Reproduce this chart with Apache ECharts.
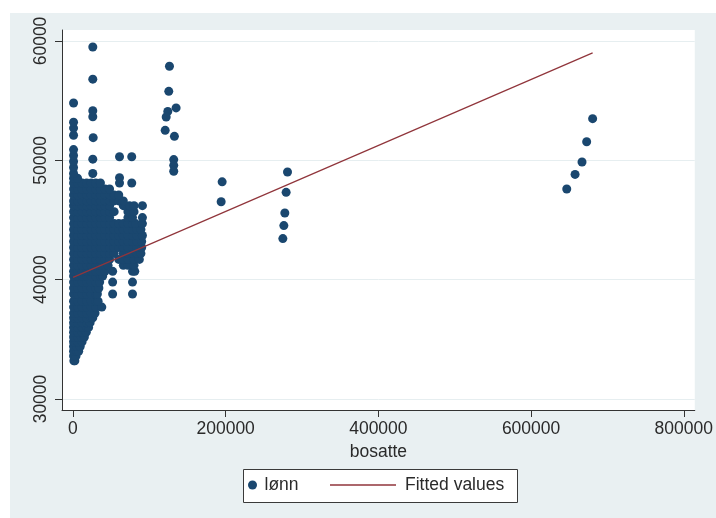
<!DOCTYPE html>
<html><head><meta charset="utf-8">
<script src="https://cdn.jsdelivr.net/npm/echarts@6/dist/echarts.min.js"></script>
<style>html,body{margin:0;padding:0;background:#fff}#c{width:716px;height:518px}</style>
</head><body><div id="c"></div>
<script>
// x-axis ticks (bosatte) and y-axis ticks (lønn)
const xTicks = [0, 200000, 400000, 600000, 800000];
const yTicks = [30000, 40000, 50000, 60000];

// Dense cloud of small municipalities: rows of [lønn, [bosatte values...]]
const lonnRows = [
  [33200, [1200, 2500]],
  [33600, [800, 4000]],
  [34000, [800, 5000, 7500]],
  [34400, [800, 5000, 9500]],
  [34800, [800, 6000, 12000]],
  [35200, [800, 6000, 11000, 15000]],
  [35600, [800, 6000, 12000, 17500]],
  [36000, [800, 6000, 12000, 18000, 20500]],
  [36400, [800, 6000, 12000, 18000, 22500]],
  [36800, [800, 6000, 12000, 18000, 24000, 26000]],
  [37200, [800, 6000, 12000, 18000, 24000, 29000]],
  [37700, [800, 6000, 12000, 18000, 24000, 30000, 37800]],
  [38200, [800, 6000, 12000, 18000, 24000, 30000, 33000]],
  [38800, [800, 6000, 12000, 18000, 24000, 30000, 32000, 52000, 78000]],
  [39300, [800, 6000, 12000, 18000, 24000, 30000, 34000]],
  [39800, [800, 6000, 12000, 18000, 24000, 30000, 35000, 52000, 78000]],
  [40300, [800, 6000, 12000, 18000, 24000, 30000, 36000, 39000]],
  [40700, [800, 6000, 12000, 18000, 24000, 30000, 36000, 42000, 52000, 78000, 81000]],
  [41200, [800, 6000, 12000, 18000, 24000, 30000, 36000, 42000, 46000, 66000, 72000, 80000]],
  [41700, [800, 6000, 12000, 18000, 24000, 30000, 36000, 42000, 48000, 60000, 66000, 72000, 80000, 87000]],
  [42200, [800, 6000, 12000, 18000, 24000, 30000, 36000, 42000, 48000, 54000, 66000, 72000, 78000, 84000, 89000]],
  [42700, [800, 6000, 12000, 18000, 24000, 30000, 36000, 42000, 48000, 54000, 60000, 66000, 72000, 78000, 84000, 90000]],
  [43200, [800, 6000, 12000, 18000, 24000, 30000, 36000, 42000, 48000, 54000, 60000, 66000, 72000, 78000, 84000, 90000]],
  [43700, [800, 6000, 12000, 18000, 24000, 30000, 36000, 42000, 48000, 54000, 60000, 66000, 72000, 78000, 84000, 91000]],
  [44200, [800, 6000, 12000, 18000, 24000, 30000, 36000, 42000, 48000, 54000, 60000, 66000, 72000, 78000, 84000, 89000]],
  [44700, [800, 6000, 12000, 18000, 24000, 30000, 36000, 42000, 48000, 54000, 60000, 66000, 72000, 78000, 82000, 91000]],
  [45200, [800, 6000, 12000, 18000, 24000, 30000, 36000, 42000, 48000, 72000, 78000, 91000]],
  [45700, [800, 6000, 12000, 18000, 24000, 30000, 36000, 42000, 48000, 54000, 72000, 80000]],
  [46200, [800, 6000, 12000, 18000, 24000, 30000, 36000, 42000, 48000, 66000, 74000, 80000, 91000]],
  [46600, [800, 6000, 12000, 18000, 24000, 30000, 36000, 42000, 48000, 54000, 60000, 66000]],
  [47100, [800, 6000, 12000, 18000, 24000, 30000, 36000, 42000, 48000, 54000, 60000]],
  [47600, [800, 6000, 12000, 18000, 24000, 30000, 36000, 42000, 48000]],
  [48100, [800, 6000, 12000, 18000, 24000, 30000, 36000, 61000, 77000]],
  [48500, [800, 6000]]
];

// Separately readable points [bosatte, lønn]
const lonnOutliers = [
  [800, 48900], [800, 49400], [800, 49900], [800, 50400], [800, 50900],
  [800, 52100], [800, 52700], [800, 53200], [800, 54800],
  [26000, 48900], [26000, 50100], [26500, 51900], [26000, 53650], [26000, 54150],
  [26000, 56800], [26000, 59500],
  [61000, 50300], [77000, 50300], [61000, 48540],
  [126400, 57880], [125500, 55780], [124200, 54100], [122100, 53630], [135100, 54390],
  [120800, 52510], [132900, 52010], [132000, 50060], [132000, 49580], [132000, 49080],
  [195400, 48200], [194100, 46530],
  [281000, 49020], [279200, 47320], [277500, 45590], [276200, 44530], [274900, 43440],
  [680600, 53490], [672800, 51560], [666700, 49860], [657600, 48820], [646700, 47600]
];

// Fitted values (linear fit) endpoints [bosatte, fitted]
const fittedValues = [[200, 40190], [680600, 59000]];

const scatterData = [];
lonnRows.forEach(function (r) { r[1].forEach(function (x) { scatterData.push([x, r[0]]); }); });
lonnOutliers.forEach(function (p) { scatterData.push(p); });

const FONT = '"Liberation Sans", Arial, sans-serif';
const TXT = '#2a2a2a';
const plain = function (v) { return String(v); };

const chart = echarts.init(document.getElementById('c'), null, {renderer: 'canvas'});
chart.setOption({
  animation: false,
  backgroundColor: '#ffffff',
  graphic: {
    elements: [
      {type: 'rect', z: -100, shape: {x: 10, y: 13, width: 706, height: 505}, style: {fill: '#e9f0f2'}},
      {type: 'rect', z: 3, shape: {x: 243.5, y: 469.5, width: 274, height: 33}, style: {fill: '#ffffff', stroke: '#3a3a3a', lineWidth: 1}}
    ]
  },
  grid: {left: 62, right: 18, top: 30, bottom: 108, show: true, backgroundColor: '#ffffff', borderWidth: 0},
  xAxis: {
    type: 'value', min: -14330, max: 814375,
    name: 'bosatte', nameLocation: 'middle', nameGap: 30,
    nameTextStyle: {fontFamily: FONT, fontSize: 17.5, color: TXT},
    axisLine: {show: true, onZero: false, lineStyle: {color: '#333', width: 1}},
    axisTick: {show: true, length: 7, lineStyle: {color: '#333'}, customValues: xTicks},
    axisLabel: {fontFamily: FONT, fontSize: 17.5, color: TXT, margin: 10, customValues: xTicks, formatter: plain},
    splitLine: {show: false}
  },
  yAxis: {
    type: 'value', min: 29080, max: 60920,
    axisLine: {show: true, onZero: false, lineStyle: {color: '#333', width: 1}},
    axisTick: {show: true, length: 7, lineStyle: {color: '#333'}, customValues: yTicks},
    axisLabel: {fontFamily: FONT, fontSize: 17.5, color: TXT, margin: 12, rotate: 90, customValues: yTicks, formatter: plain},
    splitLine: {show: true, lineStyle: {color: '#e6eef0', width: 1}}
  },
  legend: [
    {
      data: [{name: 'lønn', icon: 'circle'}], left: 248, top: 476, padding: 0,
      itemWidth: 14, itemHeight: 9,
      textStyle: {fontFamily: FONT, fontSize: 17.5, color: TXT}
    },
    {
      data: [{name: 'Fitted values', icon: 'rect'}], left: 330, top: 476, padding: 0,
      itemWidth: 66, itemHeight: 1.3,
      textStyle: {fontFamily: FONT, fontSize: 17.5, color: TXT, padding: [0, 0, 0, 4]}
    }
  ],
  series: [
    {
      name: 'lønn', type: 'scatter', data: scatterData, symbolSize: 9,
      itemStyle: {color: '#1a476f', opacity: 1}
    },
    {
      name: 'Fitted values', type: 'line', data: fittedValues, showSymbol: false, symbol: 'none',
      lineStyle: {color: '#90353b', width: 1.2}, itemStyle: {color: '#90353b'}
    }
  ]
});
</script></body></html>
